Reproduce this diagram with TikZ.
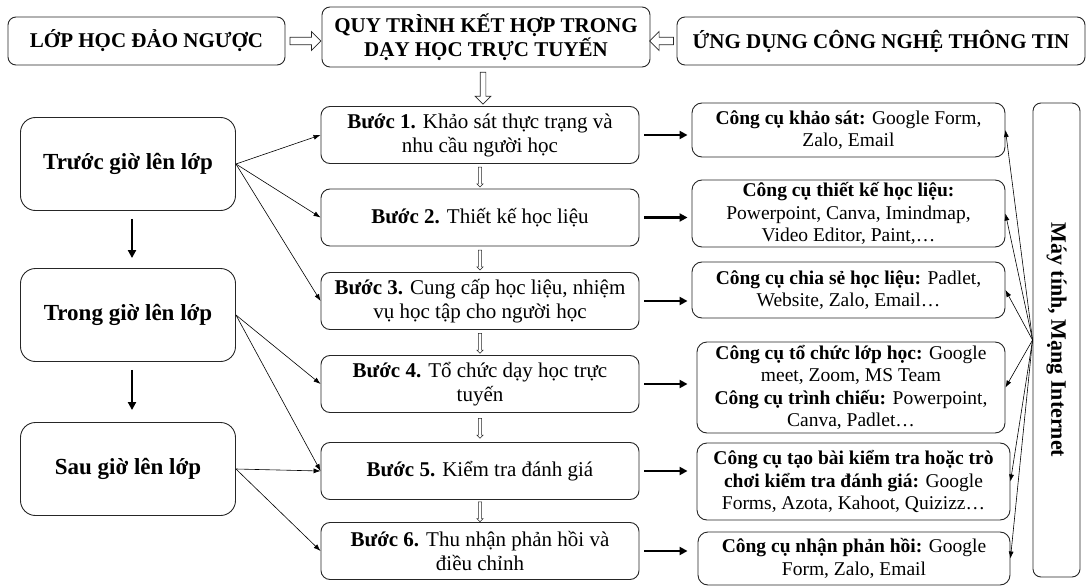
\documentclass[tikz,border=0pt]{standalone}
\usepackage{fontspec}
\setmainfont{Liberation Serif}
\usetikzlibrary{arrows.meta,shapes.arrows,calc}

\tikzset{
	box/.style={draw=black!85, line width=0.9pt, rounded corners=9pt, align=center, inner sep=2pt},
	topbox/.style={box, rounded corners=8pt, font=\bfseries\fontsize{21}{24}\selectfont},
	phasebox/.style={box, rounded corners=15pt, minimum width=215pt, minimum height=93pt, font=\bfseries\fontsize{23}{26}\selectfont},
	stepbox/.style={box, minimum width=318pt, minimum height=57pt, font=\fontsize{21}{24}\selectfont},
	toolbox/.style={box, rounded corners=10pt, font=\fontsize{19.5}{22.5}\selectfont},
	netbox/.style={box, rounded corners=8pt, font=\bfseries\fontsize{22}{24}\selectfont},
	hollow/.style={draw=black!85, line width=0.7pt, single arrow, inner sep=3pt, single arrow head extend=5pt},
	hollowsmall/.style={draw=black!85, line width=0.5pt, single arrow, inner sep=1.3pt, single arrow head extend=1.5pt, minimum height=20pt},
	linkarrow/.style={-{Latex[length=7pt,width=5pt]}, line width=0.6pt},
	boldarrow/.style={-{Triangle[length=8pt,width=8pt]}, line width=2.2pt},
}

\begin{document}
\begin{tikzpicture}[x=1pt,y=-1pt]

	\useasboundingbox (0,0) rectangle (1088,586);

	\pgfmathsetmacro{\phasex}{128}
	\pgfmathsetmacro{\stepx}{480}

	% top row
	\node[topbox, minimum width=277pt, minimum height=48pt] (lop) at (146.5,41) {LỚP HỌC ĐẢO NGƯỢC};
	\node[topbox, minimum width=328pt, minimum height=60pt] (quytrinh) at (486,37) {QUY TRÌNH KẾT HỢP TRONG\\DẠY HỌC TRỰC TUYẾN};
	\node[topbox, minimum width=408pt, minimum height=48pt] (ungdung) at (881,41) {ỨNG DỤNG CÔNG NGHỆ THÔNG TIN};

	% phases
	\node[phasebox] (truoc) at (\phasex,164) {Trước giờ lên lớp};
	\node[phasebox] (trong) at (\phasex,315) {Trong giờ lên lớp};
	\node[phasebox] (sau) at (\phasex,469) {Sau giờ lên lớp};

	% steps
	\node[stepbox] (b1) at (\stepx,135) {\textbf{Bước 1.} Khảo sát thực trạng và\\nhu cầu người học};
	\node[stepbox] (b2) at (\stepx,217.5) {\textbf{Bước 2.} Thiết kế học liệu};
	\node[stepbox] (b3) at (\stepx,301) {\textbf{Bước 3.} Cung cấp học liệu, nhiệm\\vụ học tập cho người học};
	\node[stepbox] (b4) at (\stepx,384) {\textbf{Bước 4.} Tổ chức dạy học trực\\tuyến};
	\node[stepbox] (b5) at (\stepx,471) {\textbf{Bước 5.} Kiểm tra đánh giá};
	\node[stepbox] (b6) at (\stepx,551) {\textbf{Bước 6.} Thu nhận phản hồi và\\điều chỉnh};

	% tools
	\node[toolbox, minimum width=313pt, minimum height=54pt] (t1) at (848.5,130) {\textbf{Công cụ khảo sát:} Google Form,\\Zalo, Email};
	\node[toolbox, minimum width=313pt, minimum height=67pt] (t2) at (848.5,213.5) {\textbf{Công cụ thiết kế học liệu:}\\Powerpoint, Canva, Imindmap,\\Video Editor, Paint,…};
	\node[toolbox, minimum width=313pt, minimum height=56pt] (t3) at (848.5,290) {\textbf{Công cụ chia sẻ học liệu:} Padlet,\\Website, Zalo, Email…};
	\node[toolbox, minimum width=308pt, minimum height=91pt] (t4) at (851,387.5) {\textbf{Công cụ tổ chức lớp học:} Google\\meet, Zoom, MS Team\\\textbf{Công cụ trình chiếu:} Powerpoint,\\Canva, Padlet…};
	\node[toolbox, minimum width=313pt, minimum height=77pt] (t5) at (853.5,481.5) {\textbf{Công cụ tạo bài kiểm tra hoặc trò}\\\textbf{chơi kiểm tra đánh giá:} Google\\Forms, Azota, Kahoot, Quizizz…};
	\node[toolbox, minimum width=312pt, minimum height=53pt] (t6) at (854,558.5) {\textbf{Công cụ nhận phản hồi:} Google\\Form, Zalo, Email};

	% computer and internet
	\node[netbox, rotate=-90, minimum width=474pt, minimum height=47pt] (net) at (1056.5,340) {Máy tính, Mạng Internet};

	% hollow arrows
	\node[hollow, minimum height=31pt, minimum width=19pt] (h1) at ($(lop.east)!0.5!(quytrinh.west |- lop.east)$) {};
	\node[hollow, rotate=180, minimum height=24pt, minimum width=19pt] (h2) at ($(ungdung.west)!0.5!(quytrinh.east |- ungdung.west)$) {};
	\node[hollow, rotate=-90, inner sep=2.5pt, minimum height=32pt, minimum width=14pt] (h3) at ($(quytrinh.south)!0.5!(b1.north)$) {};
	\node[hollowsmall, rotate=-90] (s12) at ($(b1.south)!0.5!(b2.north)$) {};
	\node[hollowsmall, rotate=-90] (s23) at ($(b2.south)!0.5!(b3.north)$) {};
	\node[hollowsmall, rotate=-90] (s34) at ($(b3.south)!0.5!(b4.north)$) {};
	\node[hollowsmall, rotate=-90] (s45) at ($(b4.south)!0.5!(b5.north)$) {};
	\node[hollowsmall, rotate=-90] (s56) at ($(b5.south)!0.5!(b6.north)$) {};

	% phase to phase
	\draw[boldarrow, line width=2pt, shorten <=8pt, shorten >=10pt] ([xshift=4pt]truoc.south) -- ([xshift=4pt]trong.north);
	\draw[boldarrow, line width=2pt, shorten <=8pt, shorten >=12pt] ([xshift=4pt]trong.south) -- ([xshift=4pt]sau.north);

	% phase to step
	\draw[linkarrow] (truoc.east) -- (b1.west);
	\draw[linkarrow] (truoc.east) -- (b2.west);
	\draw[linkarrow] (truoc.east) -- (b3.west);
	\draw[linkarrow] (trong.east) -- (b4.west);
	\draw[linkarrow] (trong.east) -- (b5.west);
	\draw[linkarrow] (sau.east) -- (b5.west);
	\draw[linkarrow] (sau.east) -- (b6.west);

	% step to tool
	\draw[boldarrow, shorten <=5pt, shorten >=4pt] (b1.east) -- (b1.east -| t1.west);
	\draw[boldarrow, shorten <=5pt, shorten >=4pt] (b2.east) -- (b2.east -| t2.west);
	\draw[boldarrow, shorten <=5pt, shorten >=4pt] (b3.east) -- (b3.east -| t3.west);
	\draw[boldarrow, shorten <=5pt, shorten >=9pt] (b4.east) -- (b4.east -| t4.west);
	\draw[boldarrow, shorten <=5pt, shorten >=9pt] (b5.east) -- (b5.east -| t5.west);
	\draw[boldarrow, shorten <=5pt, shorten >=10pt] (b6.east) -- (b6.east -| t6.west);

	% internet to tool
	\draw[linkarrow] (net.south) -- (t1.east);
	\draw[linkarrow] (net.south) -- (t2.east);
	\draw[linkarrow] (net.south) -- (t3.east);
	\draw[linkarrow] (net.south) -- (t4.east);
	\draw[linkarrow] (net.south) -- (t5.east);
	\draw[linkarrow] (net.south) -- (t6.east);

\end{tikzpicture}
\end{document}
